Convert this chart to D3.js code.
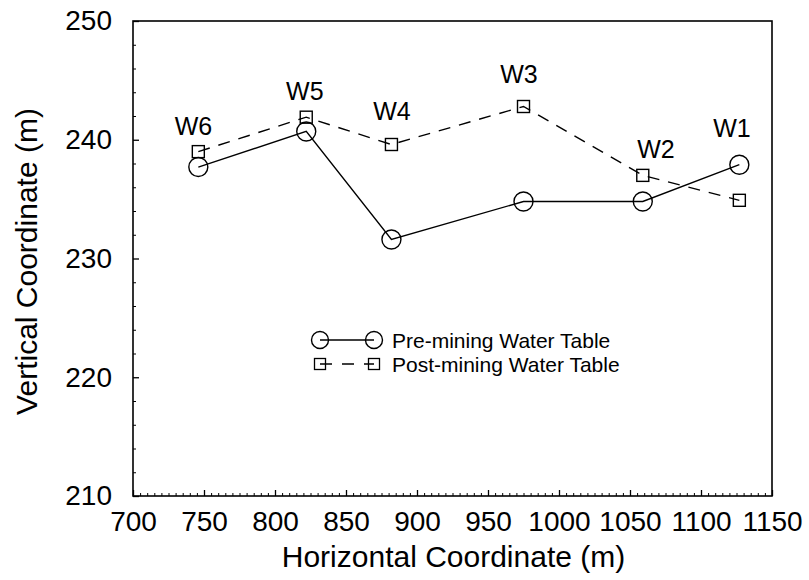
<!DOCTYPE html>
<html>
<head>
<meta charset="utf-8">
<script src="https://cdn.jsdelivr.net/npm/d3@7"></script>
<style>
  html, body { margin: 0; padding: 0; background: #fff; }
  svg { display: block; font-family: "Liberation Sans", Arial, Helvetica, sans-serif; }
</style>
</head>
<body>
<svg id="chart" width="809" height="580"></svg>
<script>
// ---- data ----
const wells = ["W6", "W5", "W4", "W3", "W2", "W1"];
const horizontal = [746, 822, 882, 975, 1059, 1127];
const preMining = [237.7, 240.7, 231.6, 234.8, 234.8, 237.9];
const postMining = [239.0, 241.9, 239.6, 242.8, 237.0, 234.9];
// well label anchors (data units)
const labelX = [742.6, 821, 882.4, 971.8, 1068.3, 1121.8];
const labelY = [240.4, 243.35, 241.66, 244.8, 238.46, 240.2];
const xTicks = [700, 750, 800, 850, 900, 950, 1000, 1050, 1100, 1150];
const yTicks = [210, 220, 230, 240, 250];
const seriesNames = ["Pre-mining Water Table", "Post-mining Water Table"];

// ---- layout ----
const svg = d3.select("#chart");
const mLeft = 133, mRight = 772, mTop = 21, mBottom = 496;
const x = d3.scaleLinear().domain([700, 1150]).range([mLeft, mRight]);
const y = d3.scaleLinear().domain([210, 250]).range([mBottom, mTop]);
const font = "'Liberation Sans', Arial, Helvetica, sans-serif";

// minor ticks
const xMinor = d3.range(700, 1150.1, 5).filter(v => !xTicks.includes(v));
const yMinor = d3.range(210, 250.1, 2).filter(v => !yTicks.includes(v));

svg.append("g").attr("transform", `translate(0,${mBottom})`)
  .call(d3.axisBottom(x).tickValues(xMinor).tickSize(-3).tickFormat(""))
  .call(g => g.select(".domain").remove())
  .selectAll("line").attr("stroke", "#000").attr("stroke-width", 1);
svg.append("g").attr("transform", `translate(${mLeft},0)`)
  .call(d3.axisLeft(y).tickValues(yMinor).tickSize(-3).tickFormat(""))
  .call(g => g.select(".domain").remove())
  .selectAll("line").attr("stroke", "#000").attr("stroke-width", 1);

// major axes
const xAxis = svg.append("g").attr("transform", `translate(0,${mBottom})`)
  .call(d3.axisBottom(x).tickValues(xTicks).tickSize(-6).tickPadding(15).tickFormat(d3.format("d")));
xAxis.select(".domain").remove();
xAxis.selectAll("line").attr("stroke", "#000").attr("stroke-width", 1.3);
xAxis.selectAll("text").attr("font-family", font).attr("font-size", 28).attr("fill", "#000");

const yAxis = svg.append("g").attr("transform", `translate(${mLeft},0)`)
  .call(d3.axisLeft(y).tickValues(yTicks).tickSize(-6).tickPadding(21).tickFormat(d3.format("d")));
yAxis.select(".domain").remove();
yAxis.selectAll("line").attr("stroke", "#000").attr("stroke-width", 1.3);
yAxis.selectAll("text").attr("font-family", font).attr("font-size", 28).attr("fill", "#000");

// frame
svg.append("rect").attr("x", mLeft).attr("y", mTop)
  .attr("width", mRight - mLeft).attr("height", mBottom - mTop)
  .attr("fill", "none").attr("stroke", "#000").attr("stroke-width", 1.6);

// axis titles
svg.append("text").attr("x", (mLeft + mRight) / 2 + 1).attr("y", 567)
  .attr("text-anchor", "middle").attr("font-family", font).attr("font-size", 30)
  .text("Horizontal Coordinate (m)");
svg.append("text").attr("transform", `translate(37,${(mTop + mBottom) / 2 + 3}) rotate(-90)`)
  .attr("text-anchor", "middle").attr("font-family", font).attr("font-size", 30)
  .text("Vertical Coordinate (m)");

// data
const idx = d3.range(wells.length);
const linePre = d3.line().x(i => x(horizontal[i])).y(i => y(preMining[i]));
const linePost = d3.line().x(i => x(horizontal[i])).y(i => y(postMining[i]));

svg.append("path").attr("d", linePost(idx)).attr("fill", "none")
  .attr("stroke", "#000").attr("stroke-width", 1.4).attr("stroke-dasharray", "12,9");
svg.append("path").attr("d", linePre(idx)).attr("fill", "none")
  .attr("stroke", "#000").attr("stroke-width", 1.4);

const sq = 12;
svg.append("g").selectAll("rect").data(idx).join("rect")
  .attr("x", i => x(horizontal[i]) - sq / 2).attr("y", i => y(postMining[i]) - sq / 2)
  .attr("width", sq).attr("height", sq)
  .attr("fill", "none").attr("stroke", "#000").attr("stroke-width", 1.4);
svg.append("g").selectAll("circle").data(idx).join("circle")
  .attr("cx", i => x(horizontal[i])).attr("cy", i => y(preMining[i])).attr("r", 9.5)
  .attr("fill", "none").attr("stroke", "#000").attr("stroke-width", 1.4);

// well labels
svg.append("g").selectAll("text").data(idx).join("text")
  .attr("x", i => x(labelX[i])).attr("y", i => y(labelY[i]))
  .attr("text-anchor", "middle").attr("font-family", font).attr("font-size", 25)
  .text(i => wells[i]);

// legend
const lg = svg.append("g");
const lx1 = 320, lx2 = 374, ly1 = 340, ly2 = 364;
lg.append("line").attr("x1", lx1).attr("x2", lx2).attr("y1", ly1).attr("y2", ly1)
  .attr("stroke", "#000").attr("stroke-width", 1.4);
[lx1, lx2].forEach(cx => lg.append("circle").attr("cx", cx).attr("cy", ly1).attr("r", 8.5)
  .attr("fill", "none").attr("stroke", "#000").attr("stroke-width", 1.4));
lg.append("line").attr("x1", lx1).attr("x2", lx2).attr("y1", ly2).attr("y2", ly2)
  .attr("stroke", "#000").attr("stroke-width", 1.4).attr("stroke-dasharray", "12,10");
[lx1, lx2].forEach(cx => lg.append("rect").attr("x", cx - 5.5).attr("y", ly2 - 5.5)
  .attr("width", 11).attr("height", 11)
  .attr("fill", "none").attr("stroke", "#000").attr("stroke-width", 1.3));
lg.selectAll("text").data(seriesNames).join("text")
  .attr("x", 392).attr("y", (d, i) => (i === 0 ? ly1 : ly2) + 7.5)
  .attr("font-family", font).attr("font-size", 21).text(d => d);
</script>
</body>
</html>
